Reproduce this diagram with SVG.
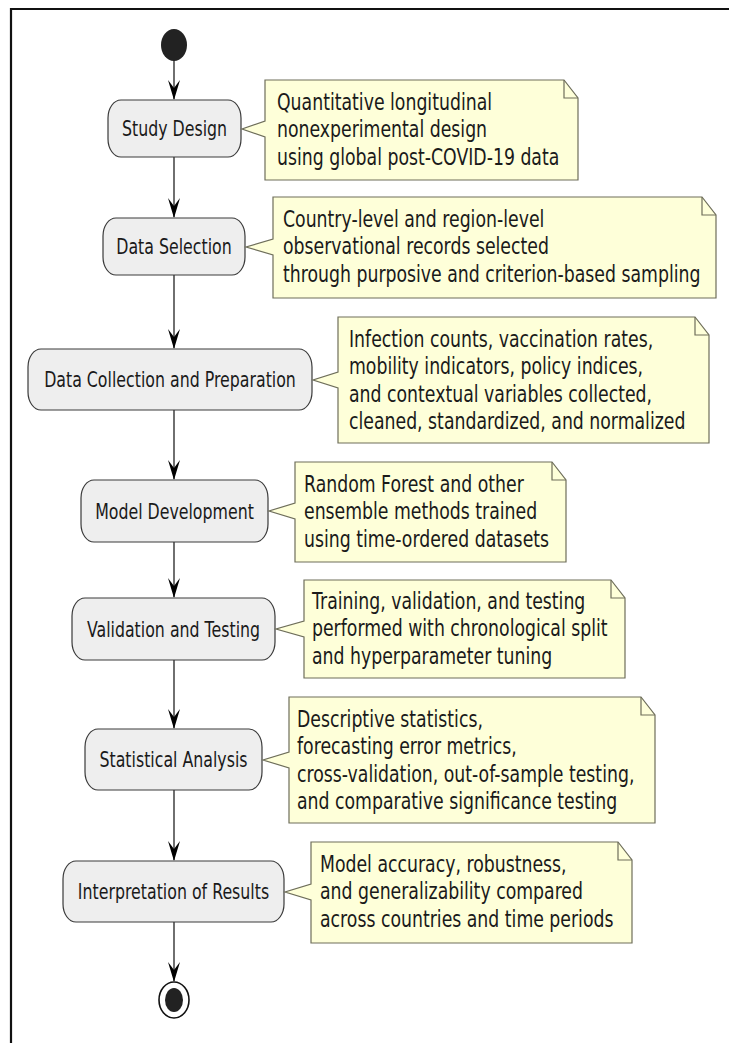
<svg xmlns="http://www.w3.org/2000/svg" width="729" height="1043" viewBox="0 0 729 1043">
  <style>
    .frame { stroke: #111; stroke-width: 2.2; fill: none; }
    .act rect { fill: #EEEEEE; stroke: #3a3a3a; stroke-width: 1.2; }
    .label { font-family: "DejaVu Sans", "Liberation Sans", sans-serif; font-size: 15.8px; fill: #1a1a1a; text-anchor: middle; }
    .note path.body { fill: #FEFFD9; stroke: #6e6e5a; stroke-width: 1.2; stroke-linejoin: miter; }
    .note path.fold { fill: none; stroke: #6e6e5a; stroke-width: 1.2; }
    .ntext { font-family: "DejaVu Sans", "Liberation Sans", sans-serif; font-size: 17.3px; fill: #1a1a1a; }
    .flow line { stroke: #222; stroke-width: 1.3; }
    .flow polygon { fill: #222; stroke: #222; stroke-width: 0.8; }
  </style>
  <defs>
    <polygon id="head" points="-6,-20 0,0 6,-20 0,-12"/>
  </defs>

  <rect width="729" height="1043" fill="#ffffff"/>
  <!-- frame: top and left edges only -->
  <path class="frame" d="M729,9 H11 V1043"/>

  <!-- connectors -->
  <g id="connectors" class="flow">
    <line x1="174" y1="60" x2="174" y2="99"/>
    <use href="#head" x="174" y="100"/>
    <line x1="174" y1="157" x2="174" y2="217"/>
    <use href="#head" x="174" y="218"/>
    <line x1="174" y1="275" x2="174" y2="348"/>
    <use href="#head" x="174" y="349"/>
    <line x1="174" y1="410" x2="174" y2="479"/>
    <use href="#head" x="174" y="480"/>
    <line x1="174" y1="542" x2="174" y2="597"/>
    <use href="#head" x="174" y="598"/>
    <line x1="174" y1="660" x2="174" y2="728"/>
    <use href="#head" x="174" y="729"/>
    <line x1="174" y1="790" x2="174" y2="860"/>
    <use href="#head" x="174" y="861"/>
    <line x1="174" y1="922" x2="174" y2="981"/>
    <use href="#head" x="174" y="982"/>
  </g>

  <!-- start -->
  <g id="start">
    <ellipse cx="174" cy="45" rx="13" ry="16" fill="#222"/>
  </g>

  <!-- activities -->
  <g id="study-design" class="act">
    <rect x="108" y="100" width="133" height="57" rx="13" ry="18"/>
    <text class="label" transform="translate(174.5,136) scale(1,1.36)">Study Design</text>
  </g>
  <g id="data-selection" class="act">
    <rect x="103" y="218" width="142" height="57" rx="13" ry="18"/>
    <text class="label" transform="translate(174,254) scale(1,1.36)">Data Selection</text>
  </g>
  <g id="data-collection" class="act">
    <rect x="28" y="349" width="284" height="61" rx="13" ry="18"/>
    <text class="label" transform="translate(170,387) scale(1,1.36)">Data Collection and Preparation</text>
  </g>
  <g id="model-development" class="act">
    <rect x="81" y="480" width="187" height="62" rx="13" ry="18"/>
    <text class="label" transform="translate(174.5,519) scale(1,1.36)">Model Development</text>
  </g>
  <g id="validation-testing" class="act">
    <rect x="72" y="598" width="203" height="62" rx="13" ry="18"/>
    <text class="label" transform="translate(173.5,637) scale(1,1.36)">Validation and Testing</text>
  </g>
  <g id="statistical-analysis" class="act">
    <rect x="85" y="729" width="177" height="61" rx="13" ry="18"/>
    <text class="label" transform="translate(173.5,767) scale(1,1.36)">Statistical Analysis</text>
  </g>
  <g id="interpretation" class="act">
    <rect x="63" y="861" width="221" height="61" rx="13" ry="18"/>
    <text class="label" transform="translate(173.5,899) scale(1,1.36)">Interpretation of Results</text>
  </g>

  <!-- end -->
  <g id="end">
    <ellipse cx="174" cy="1000" rx="15" ry="18" fill="#fff" stroke="#111" stroke-width="1.6"/>
    <ellipse cx="174" cy="1000" rx="9" ry="12" fill="#222"/>
  </g>

  <!-- notes: body with pointer notch, folded corner -->
  <g id="note-study-design" class="note">
    <path class="body" d="M265,80 H564 L578,98 V180 H265 V137 L242,129 L265,121 Z"/>
    <path class="fold" d="M564,80 V98 H578"/>
    <text class="ntext" transform="translate(277,110) scale(1,1.36)"><tspan x="0" y="0">Quantitative longitudinal</tspan><tspan x="0" y="20.07">nonexperimental design</tspan><tspan x="0" y="40.14">using global post-COVID-19 data</tspan></text>
  </g>
  <g id="note-data-selection" class="note">
    <path class="body" d="M273,197 H702 L716,215 V298 H273 V255 L246,247 L273,239 Z"/>
    <path class="fold" d="M702,197 V215 H716"/>
    <text class="ntext" transform="translate(283,227) scale(1,1.36)"><tspan x="0" y="0">Country-level and region-level</tspan><tspan x="0" y="20.07">observational records selected</tspan><tspan x="0" y="40.14">through purposive and criterion-based sampling</tspan></text>
  </g>
  <g id="note-data-collection" class="note">
    <path class="body" d="M338,317 H695 L709,335 V443 H338 V388 L313,380 L338,372 Z"/>
    <path class="fold" d="M695,317 V335 H709"/>
    <text class="ntext" transform="translate(349,347) scale(1,1.36)"><tspan x="0" y="0">Infection counts, vaccination rates,</tspan><tspan x="0" y="20.07">mobility indicators, policy indices,</tspan><tspan x="0" y="40.14">and contextual variables collected,</tspan><tspan x="0" y="60.21">cleaned, standardized, and normalized</tspan></text>
  </g>
  <g id="note-model-development" class="note">
    <path class="body" d="M295,462 H552 L566,480 V562 H295 V519 L269,511 L295,503 Z"/>
    <path class="fold" d="M552,462 V480 H566"/>
    <text class="ntext" transform="translate(304,492) scale(1,1.36)"><tspan x="0" y="0">Random Forest and other</tspan><tspan x="0" y="20.07">ensemble methods trained</tspan><tspan x="0" y="40.14">using time-ordered datasets</tspan></text>
  </g>
  <g id="note-validation-testing" class="note">
    <path class="body" d="M304,580 H611 L625,598 V678 H304 V637 L276,629 L304,621 Z"/>
    <path class="fold" d="M611,580 V598 H625"/>
    <text class="ntext" transform="translate(312,609) scale(1,1.36)"><tspan x="0" y="0">Training, validation, and testing</tspan><tspan x="0" y="20.07">performed with chronological split</tspan><tspan x="0" y="40.14">and hyperparameter tuning</tspan></text>
  </g>
  <g id="note-statistical-analysis" class="note">
    <path class="body" d="M289,697 H641 L655,715 V823 H289 V768 L263,760 L289,752 Z"/>
    <path class="fold" d="M641,697 V715 H655"/>
    <text class="ntext" transform="translate(297,727) scale(1,1.36)"><tspan x="0" y="0">Descriptive statistics,</tspan><tspan x="0" y="20.07">forecasting error metrics,</tspan><tspan x="0" y="40.14">cross-validation, out-of-sample testing,</tspan><tspan x="0" y="60.21">and comparative significance testing</tspan></text>
  </g>
  <g id="note-interpretation" class="note">
    <path class="body" d="M311,842 H618 L632,860 V943 H311 V900 L285,892 L311,884 Z"/>
    <path class="fold" d="M618,842 V860 H632"/>
    <text class="ntext" transform="translate(320,872) scale(1,1.36)"><tspan x="0" y="0">Model accuracy, robustness,</tspan><tspan x="0" y="20.07">and generalizability compared</tspan><tspan x="0" y="40.14">across countries and time periods</tspan></text>
  </g>
</svg>
